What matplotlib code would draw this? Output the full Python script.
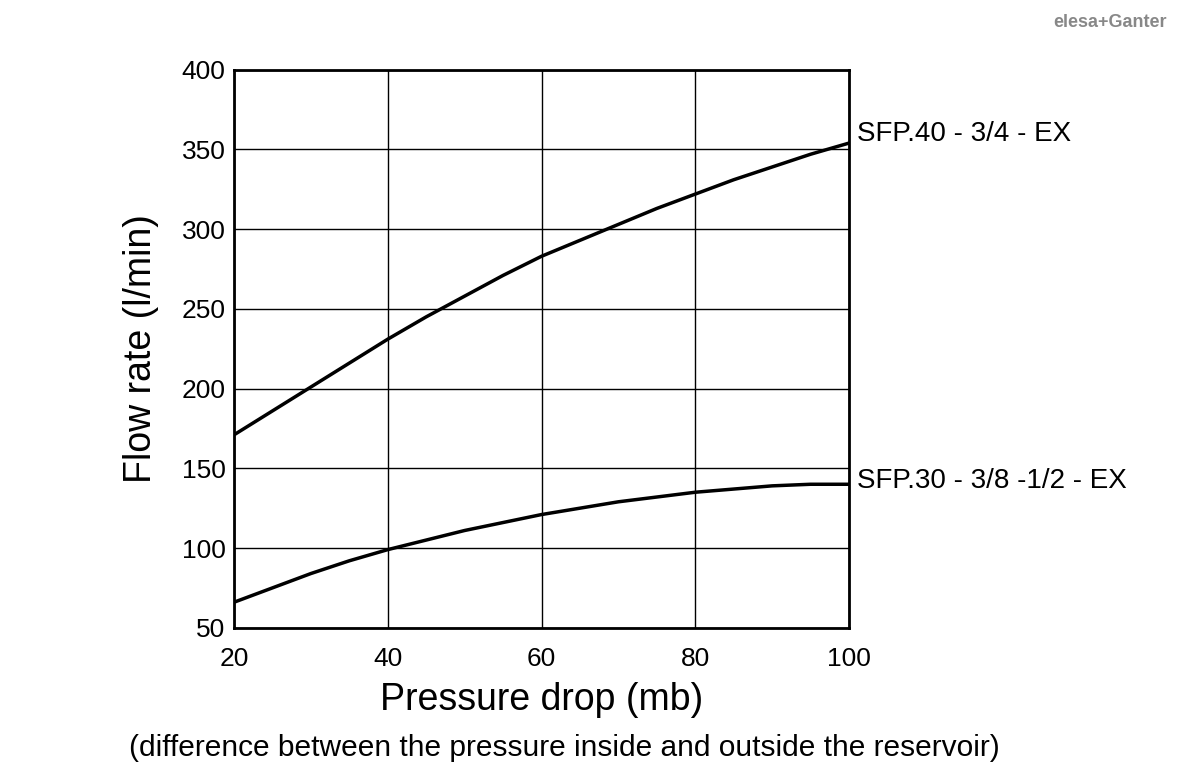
import matplotlib.pyplot as plt

pressure = [20, 25, 30, 35, 40, 45, 50, 55, 60, 65, 70, 75, 80, 85, 90, 95, 100]
flow_sfp40 = [171, 186, 201, 216, 231, 245, 258, 271, 283, 293, 303, 313, 322, 331, 339, 347, 354]
flow_sfp30 = [66, 75, 84, 92, 99, 105, 111, 116, 121, 125, 129, 132, 135, 137, 139, 140, 140]
labels = ["SFP.40 - 3/4 - EX", "SFP.30 - 3/8 -1/2 - EX"]

plt.rcParams['font.family'] = ['Liberation Sans', 'DejaVu Sans']

fig = plt.figure(figsize=(12, 7.75), dpi=100)
ax = fig.add_axes([0.195, 0.19, 0.5125, 0.72])

ax.plot(pressure, flow_sfp40, color='black', lw=2.5)
ax.plot(pressure, flow_sfp30, color='black', lw=2.5)
ax.text(101, flow_sfp40[-1] + 6, labels[0], fontsize=20, va='center', clip_on=False)
ax.text(101, flow_sfp30[-1] + 2, labels[1], fontsize=20, va='center', clip_on=False)

ax.set_xlim(20, 100)
ax.set_ylim(50, 400)
ax.set_xticks([20, 40, 60, 80, 100])
ax.set_yticks(range(50, 401, 50))
ax.tick_params(length=0, labelsize=19, pad=6)
ax.tick_params(axis='x', pad=14)
ax.grid(True, color='black', lw=1)
for s in ax.spines.values():
    s.set_linewidth(2)

ax.set_ylabel('Flow rate (l/min)', fontsize=27, labelpad=16)
ax.set_xlabel('Pressure drop (mb)', fontsize=27, labelpad=8)
fig.text(0.47, 0.025, '(difference between the pressure inside and outside the reservoir)',
         fontsize=21.5, ha='center')
fig.text(0.972, 0.965, 'elesa+Ganter', fontsize=13, color='#888888', ha='right',
         fontweight='bold')

fig.savefig('out.png')
